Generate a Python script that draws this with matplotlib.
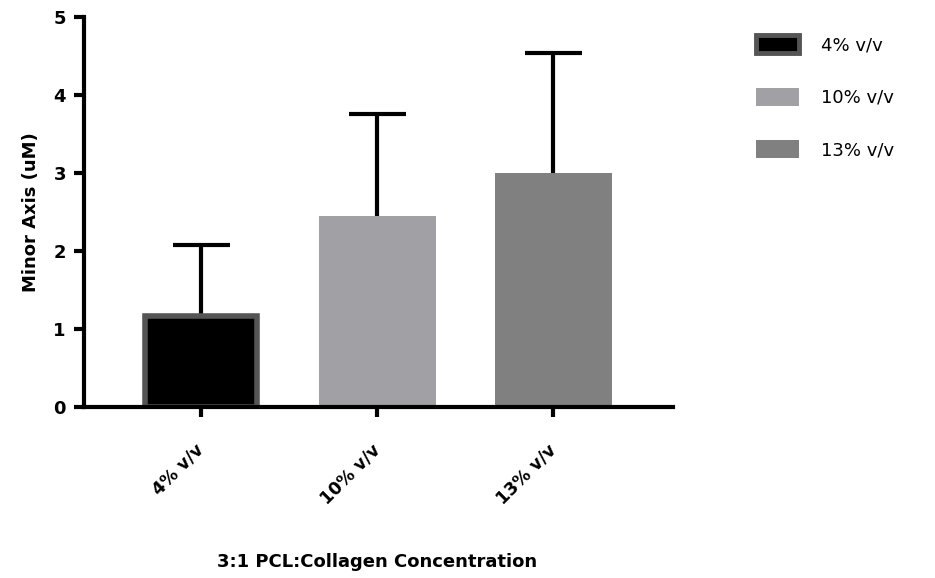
import matplotlib
matplotlib.use("Agg")
import matplotlib.pyplot as plt
from matplotlib.patches import Patch

categories = ["4% v/v", "10% v/v", "13% v/v"]
means = [1.17, 2.45, 3.00]
errors = [0.91, 1.31, 1.53]
face_colors = ["#000000", "#a1a1a5", "#808080"]
edge_colors = ["#555555", "#a1a1a5", "#808080"]
y_ticks = [0, 1, 2, 3, 4, 5]

plt.rcParams['font.family'] = ['DejaVu Sans']

fig = plt.figure(figsize=(9.35, 5.78), dpi=100)
ax = fig.add_axes([0.0898, 0.296, 0.63, 0.675])

x = list(range(len(categories)))
for i in x:
    lw = 4 if i == 0 else 0
    w = 0.635 if i == 0 else 0.665
    ax.bar(i, means[i], width=w, color=face_colors[i], edgecolor=edge_colors[i],
           linewidth=lw, zorder=2)
    top = means[i] + errors[i]
    ax.plot([i, i], [means[i], top], color='black', lw=3, zorder=1,
            solid_capstyle='butt')
    ax.plot([i - 0.162, i + 0.162], [top, top], color='black', lw=3, zorder=1,
            solid_capstyle='butt')

ax.set_xlim(-0.665, 2.68)
ax.set_ylim(0, 5)
ax.set_yticks(y_ticks)
ax.set_xticks(x)
ax.set_xticklabels(categories, rotation=45, ha='right', va='center',
                   rotation_mode='anchor', fontsize=12.5, fontweight='bold')
for lab in ax.get_yticklabels():
    lab.set_fontsize(13)
    lab.set_fontweight('bold')
ax.tick_params(axis='x', length=7, width=3, pad=22)
ax.tick_params(axis='y', length=7, width=3, pad=6)
for s in ['top', 'right']:
    ax.spines[s].set_visible(False)
for s in ['left', 'bottom']:
    ax.spines[s].set_linewidth(3)
    ax.spines[s].set_capstyle('projecting')

ax.set_ylabel("Minor Axis (uM)", fontsize=13, fontweight='bold')
ax.yaxis.set_label_coords(-0.0747, 0.5)
ax.set_xlabel("3:1 PCL:Collagen Concentration", fontsize=13, fontweight='bold')
ax.xaxis.set_label_coords(0.497, -0.374)

handles = [Patch(facecolor=face_colors[i], edgecolor=edge_colors[i],
                 linewidth=(3.5 if i == 0 else 0)) for i in x]
leg = fig.legend(handles, categories, loc='upper left', bbox_to_anchor=(0.8005, 0.952),
                 frameon=False, fontsize=13, handlelength=2.38, handleheight=1.15,
                 labelspacing=1.86, handletextpad=1.22, borderaxespad=0)

fig.savefig("out.png", dpi=100)
